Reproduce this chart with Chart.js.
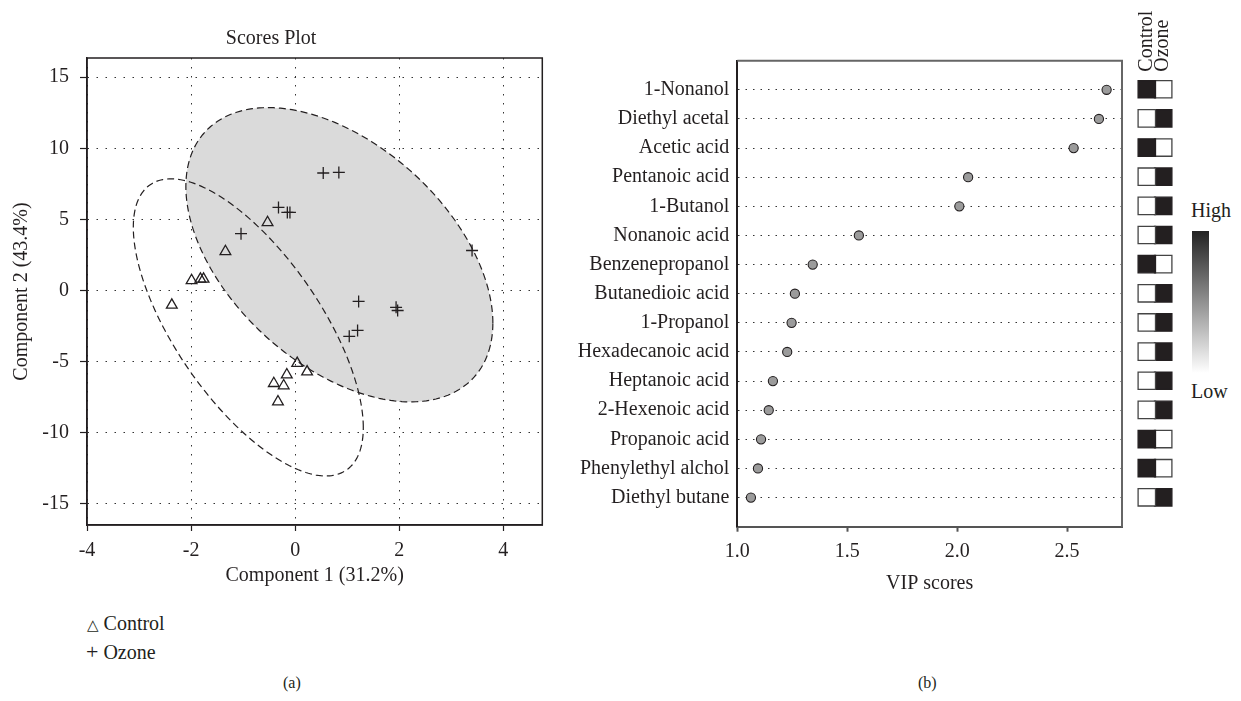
<!DOCTYPE html>
<html>
<head>
<meta charset="utf-8">
<script src="https://cdn.jsdelivr.net/npm/chart.js@4.4.1/dist/chart.umd.min.js"></script>
<style>
  body { margin: 0; width: 1241px; height: 701px; background: #fff; position: relative; overflow: hidden;
         font-family: 'Liberation Serif', 'DejaVu Serif', serif; color: #231f20; }
  .abs { position: absolute; }
  .txt { font-size: 20px; line-height: 24px; white-space: nowrap; color: #231f20; }
</style>
</head>
<body>
<canvas id="scores" class="abs" style="left:0;top:0" width="560" height="600"></canvas>
<canvas id="vip" class="abs" style="left:570px;top:0" width="560" height="610"></canvas>
<canvas id="heat" class="abs" style="left:1125px;top:0" width="60" height="560"></canvas>

<div class="abs" style="left:1192px;top:231px;width:17px;height:142px;background:linear-gradient(#222,#fff)"></div>
<div class="abs txt" style="left:1191px;top:198px">High</div>
<div class="abs txt" style="left:1191px;top:379px">Low</div>

<div class="abs txt" style="left:87px;top:611px"><span style="font-size:15px">△</span> Control</div>
<div class="abs txt" style="left:86px;top:640px"><span style="font-size:22px">+</span> Ozone</div>

<div class="abs txt" style="left:283px;top:671px;font-size:16px">(a)</div>
<div class="abs txt" style="left:918px;top:671px;font-size:16px">(b)</div>

<script>
// scores plot (a)
const controlX = [-0.53, -1.34, -1.99, -1.82, -1.76, -2.37, 0.04, 0.23, -0.16, -0.41, -0.22, -0.33];
const controlY = [4.78, 2.74, 0.70, 0.80, 0.80, -1.03, -5.13, -5.72, -5.93, -6.54, -6.70, -7.83];
const ozoneX = [0.54, 0.84, -0.32, -0.15, -0.10, -1.04, 3.40, 1.22, 1.94, 1.97, 1.20, 1.04];
const ozoneY = [8.26, 8.30, 5.84, 5.49, 5.49, 3.99, 2.81, -0.77, -1.19, -1.41, -2.81, -3.23];
// confidence ellipses: centre x, centre y, half extent x, half extent y, correlation
const controlEllipse = [-0.90, -2.60, 2.21, 10.45, -0.674];
const ozoneEllipse = [0.85, 2.51, 2.95, 10.35, -0.464];
const scoreXTicks = [-4, -2, 0, 2, 4];
const scoreYTicks = [-15, -10, -5, 0, 5, 10, 15];

// VIP scores (b)
const compounds = ['1-Nonanol', 'Diethyl acetal', 'Acetic acid', 'Pentanoic acid', '1-Butanol',
  'Nonanoic acid', 'Benzenepropanol', 'Butanedioic acid', '1-Propanol', 'Hexadecanoic acid',
  'Heptanoic acid', '2-Hexenoic acid', 'Propanoic acid', 'Phenylethyl alchol', 'Diethyl butane'];
const vipScores = [2.68, 2.645, 2.53, 2.05, 2.01, 1.553, 1.343, 1.262, 1.247, 1.227, 1.162, 1.143, 1.108, 1.094, 1.062];
const vipTicks = [1.0, 1.5, 2.0, 2.5];

// relative level heat map
const heatGroups = ['Control', 'Ozone'];
const controlHigh = [1, 0, 1, 0, 0, 0, 1, 0, 0, 0, 0, 0, 1, 1, 0];
const ozoneHigh = [0, 1, 0, 1, 1, 1, 0, 1, 1, 1, 1, 1, 0, 0, 1];

Chart.defaults.font.family = "'Liberation Serif', 'DejaVu Serif', serif";
Chart.defaults.font.size = 20;
Chart.defaults.color = '#231f20';
Chart.defaults.animation = false;
Chart.defaults.events = [];
Chart.defaults.plugins.legend.display = false;
Chart.defaults.plugins.tooltip.enabled = false;

const ink = '#231f20';

const ellipsePlugin = {
  id: 'ellipses',
  beforeDatasetsDraw(chart) {
    const { ctx, chartArea: a, scales: { x, y } } = chart;
    const trace = e => {
      ctx.beginPath();
      for (let i = 0; i <= 240; i++) {
        const t = i / 240 * Math.PI * 2;
        const vx = e[0] + e[2] * Math.cos(t);
        const vy = e[1] + e[3] * (e[4] * Math.cos(t) + Math.sqrt(1 - e[4] * e[4]) * Math.sin(t));
        const px = x.getPixelForValue(vx), py = y.getPixelForValue(vy);
        if (i) ctx.lineTo(px, py); else ctx.moveTo(px, py);
      }
      ctx.closePath();
    };
    ctx.save();
    ctx.beginPath();
    ctx.rect(a.left, a.top, a.right - a.left, a.bottom - a.top);
    ctx.clip();
    trace(ozoneEllipse);
    ctx.fillStyle = '#dadada';
    ctx.fill();
    ctx.setLineDash([7, 4]);
    ctx.lineWidth = 1.2;
    ctx.strokeStyle = ink;
    ctx.stroke();
    trace(controlEllipse);
    ctx.stroke();
    ctx.restore();
  }
};

const framePlugin = {
  id: 'frame',
  afterDraw(chart, args, opts) {
    const { ctx, chartArea: a } = chart;
    ctx.save();
    ctx.strokeStyle = opts.color;
    ctx.lineWidth = opts.width;
    ctx.beginPath();
    ctx.moveTo(a.left, a.top);
    ctx.lineTo(a.right, a.top);
    ctx.lineTo(a.right, a.bottom);
    if (opts.full) {
      ctx.lineTo(a.left, a.bottom);
      ctx.closePath();
    }
    ctx.stroke();
    ctx.restore();
  }
};

const fixTicks = list => scale => { scale.ticks = list.map(v => ({ value: v })); };

new Chart(document.getElementById('scores'), {
  type: 'scatter',
  data: {
    datasets: [
      {
        label: 'Control',
        data: controlX.map((v, i) => ({ x: v, y: controlY[i] })),
        pointStyle: 'triangle', pointRadius: 6.2,
        backgroundColor: 'rgba(0,0,0,0)', borderColor: ink, borderWidth: 1.3
      },
      {
        label: 'Ozone',
        data: ozoneX.map((v, i) => ({ x: v, y: ozoneY[i] })),
        pointStyle: 'cross', pointRadius: 6,
        borderColor: ink, borderWidth: 1.3
      }
    ]
  },
  options: {
    responsive: false,
    layout: { padding: { left: 0, right: 17.7, top: 0, bottom: 0 } },
    plugins: {
      title: {
        display: true, text: 'Scores Plot', color: ink,
        font: { size: 20, weight: 'normal' },
        padding: { top: 27, bottom: 7 }
      },
      frame: { color: ink, width: 1.5, full: true }
    },
    scales: {
      x: {
        type: 'linear', min: -4, max: 4.75,
        afterBuildTicks: fixTicks(scoreXTicks),
        afterFit: s => { s.height = 75; },
        grid: { color: '#333', lineWidth: 1, tickLength: 6, tickColor: ink, tickWidth: 1.2 },
        border: { color: ink, width: 1.5, dash: [1.5, 7.5] },
        ticks: { padding: 8, color: ink },
        title: { display: true, text: 'Component 1 (31.2%)', color: ink, padding: { top: 0, bottom: 12 } }
      },
      y: {
        type: 'linear', min: -16.5, max: 16.35,
        afterBuildTicks: fixTicks(scoreYTicks),
        afterFit: s => { s.width = 87; },
        grid: { color: '#333', lineWidth: 1, tickLength: 7, tickColor: ink, tickWidth: 1.2 },
        border: { color: ink, width: 1.5, dash: [1.5, 7.5] },
        ticks: { padding: 11, color: ink },
        title: { display: true, text: 'Component 2 (43.4%)', color: ink, padding: { top: 10, bottom: 0 } }
      }
    }
  },
  plugins: [ellipsePlugin, framePlugin]
});

new Chart(document.getElementById('vip'), {
  type: 'scatter',
  data: {
    datasets: [{
      label: 'VIP',
      data: vipScores.map((v, i) => ({ x: v, y: i + 1 })),
      pointStyle: 'circle', pointRadius: 4.6,
      backgroundColor: '#9b9b9b', borderColor: ink, borderWidth: 1.1
    }]
  },
  options: {
    responsive: false,
    layout: { padding: { left: 0, right: 8, top: 60.7, bottom: 0 } },
    plugins: { frame: { color: '#666', width: 2, full: false } },
    scales: {
      x: {
        type: 'linear', min: 1, max: 2.75,
        afterBuildTicks: fixTicks(vipTicks),
        afterFit: s => { s.height = 83.3; },
        grid: { drawOnChartArea: false, tickLength: 5, tickColor: '#555', tickWidth: 2 },
        border: { color: '#555', width: 2 },
        ticks: { padding: 8, color: ink, callback: v => v.toFixed(1) },
        title: { display: true, text: 'VIP scores', color: ink, padding: { top: 0, bottom: 14.7 } }
      },
      y: {
        type: 'linear', min: 0, max: 16, reverse: true,
        afterBuildTicks: fixTicks(compounds.map((c, i) => i + 1)),
        afterFit: s => { s.width = 167.3; },
        grid: { color: '#333', lineWidth: 1, drawTicks: false },
        border: { color: ink, width: 2, dash: [1.5, 6] },
        ticks: { padding: 8, color: ink, callback: v => compounds[v - 1] }
      }
    }
  },
  plugins: [framePlugin]
});

const heatSet = (group, levels) => ({
  label: group,
  data: levels.map((v, i) => ({ x: group, y: i + 1 })),
  pointStyle: 'rect', pointRadius: 12.3,
  backgroundColor: levels.map(v => v ? ink : '#fff'),
  borderColor: levels.map(v => v ? ink : '#444'),
  borderWidth: 1.3
});

new Chart(document.getElementById('heat'), {
  type: 'scatter',
  data: { datasets: [heatSet(heatGroups[0], controlHigh), heatSet(heatGroups[1], ozoneHigh)] },
  options: {
    responsive: false,
    layout: { padding: { left: 11, right: 11, top: 0, bottom: 48.1 } },
    scales: {
      x: {
        type: 'category', labels: heatGroups, position: 'top', offset: true,
        afterFit: s => { s.height = 74.7; s.paddingLeft = 0; s.paddingRight = 0; },
        grid: { display: false, drawTicks: false },
        border: { display: false },
        ticks: { minRotation: 90, maxRotation: 90, autoSkip: false, labelOffset: 24, padding: 3, color: ink }
      },
      y: {
        type: 'linear', min: 0.5, max: 15.5, reverse: true, display: false
      }
    }
  }
});
</script>
</body>
</html>
